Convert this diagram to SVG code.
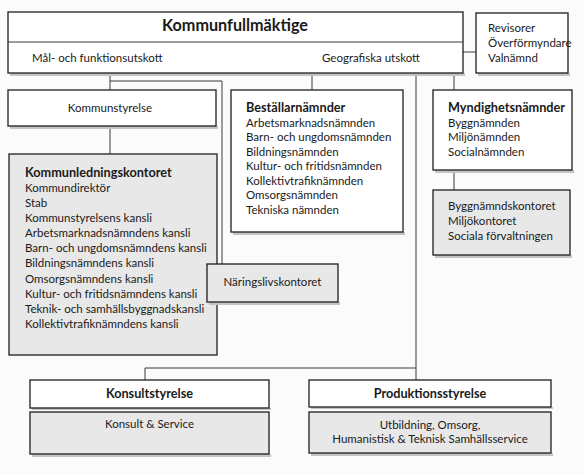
<svg xmlns="http://www.w3.org/2000/svg" width="584" height="474" viewBox="0 0 584 474">
<style>
.box{fill:#ffffff;stroke:#1e1e1e;stroke-width:1.3}
.gray{fill:#e8e8e8;stroke:#1e1e1e;stroke-width:1.3}
.sh{fill:#c4c4c4}
.ln{fill:none;stroke:#3a3a3a;stroke-width:1}
text{font-family:Lato,"Liberation Sans",sans-serif;font-size:11.5px;fill:#1a1a1a}
.b{font-weight:bold;font-size:12.7px}
.c{text-anchor:middle}
.t{font-size:16.2px;font-weight:bold}
</style>
<rect width="584" height="474" fill="#fbfbfb"/>
<g id="connectors">
<path class="ln" d="M110,73 V90"/>
<path class="ln" d="M110,81 H222 V264"/>
<path class="ln" d="M110,126 V154"/>
<path class="ln" d="M312,73 V90"/>
<path class="ln" d="M454,73 V90"/>
<path class="ln" d="M454,170 V190"/>
<path class="ln" d="M416,73 V380"/>
<path class="ln" d="M416,368 H145 V380"/>
<path class="ln" d="M463,52 H476"/>
</g>
<g id="kommunfullmaktige">
<rect class="sh" x="10" y="73" width="455" height="3"/>
<rect class="box" x="8" y="12" width="455" height="61"/>
<line class="ln" x1="8" y1="42" x2="463" y2="42" stroke="#1e1e1e"/>
<text class="t c" x="235" y="31">Kommunfullmäktige</text>
<text x="32" y="62">Mål- och funktionsutskott</text>
<text class="c" x="371" y="62">Geografiska utskott</text>
</g>
<g id="revisorer">
<rect class="sh" x="478" y="73" width="92" height="3"/>
<rect class="box" x="476" y="13" width="92" height="60"/>
<text x="488" y="32">Revisorer</text>
<text x="488" y="47">Överförmyndare</text>
<text x="488" y="62">Valnämnd</text>
</g>
<g id="kommunstyrelse">
<rect class="sh" x="10" y="126" width="208" height="3"/>
<rect class="box" x="8" y="90" width="208" height="36"/>
<text class="c" x="110" y="112">Kommunstyrelse</text>
</g>
<g id="kommunledningskontoret">
<rect class="gray" x="9" y="154" width="208" height="201"/>
<text class="b" x="25" y="177">Kommunledningskontoret</text>
<text x="25" y="192">Kommundirektör</text>
<text x="25" y="207">Stab</text>
<text x="25" y="222">Kommunstyrelsens kansli</text>
<text x="25" y="237">Arbetsmarknadsnämndens kansli</text>
<text x="25" y="252">Barn- och ungdomsnämndens kansli</text>
<text x="25" y="267">Bildningsnämndens kansli</text>
<text x="25" y="282.5">Omsorgsnämndens kansli</text>
<text x="25" y="297.5">Kultur- och fritidsnämndens kansli</text>
<text x="25" y="312.5">Teknik- och samhällsbyggnadskansli</text>
<text x="25" y="328">Kollektivtrafiknämndens kansli</text>
</g>
<g id="bestallarnamnder">
<rect class="sh" x="233" y="232" width="172" height="3"/>
<rect class="box" x="231" y="90" width="172" height="142"/>
<text class="b" x="246" y="112">Beställarnämnder</text>
<text x="246" y="126.5">Arbetsmarknadsnämnden</text>
<text x="246" y="141">Barn- och ungdomsnämnden</text>
<text x="246" y="155.5">Bildningsnämnden</text>
<text x="246" y="170">Kultur- och fritidsnämnden</text>
<text x="246" y="184.5">Kollektivtrafiknämnden</text>
<text x="246" y="199">Omsorgsnämnden</text>
<text x="246" y="213.5">Tekniska nämnden</text>
</g>
<g id="myndighetsnamnder">
<rect class="sh" x="435" y="170" width="139" height="3"/>
<rect class="box" x="433" y="90" width="139" height="80"/>
<text class="b" x="448" y="112">Myndighetsnämnder</text>
<text x="448" y="126.5">Byggnämnden</text>
<text x="448" y="141">Miljönämnden</text>
<text x="448" y="155.5">Socialnämnden</text>
</g>
<g id="forvaltningar">
<rect class="sh" x="435" y="255" width="137" height="3"/>
<rect class="gray" x="433" y="190" width="137" height="65"/>
<text x="448" y="210">Byggnämndskontoret</text>
<text x="448" y="225">Miljökontoret</text>
<text x="448" y="239.5">Sociala förvaltningen</text>
</g>
<g id="naringslivskontoret">
<rect class="sh" x="209" y="302" width="131" height="3"/>
<rect class="gray" x="207" y="264" width="131" height="38"/>
<text class="c" x="272.5" y="286">Näringslivskontoret</text>
</g>
<g id="konsultstyrelse">
<rect class="sh" x="32" y="408" width="239" height="2"/>
<rect class="box" x="30" y="380" width="239" height="28"/>
<text class="b c" x="149.5" y="398">Konsultstyrelse</text>
</g>
<g id="konsult-service">
<rect class="sh" x="32" y="454" width="239" height="3"/>
<rect class="gray" x="30" y="412" width="239" height="42"/>
<text class="c" x="149.5" y="428">Konsult &amp; Service</text>
</g>
<g id="produktionsstyrelse">
<rect class="sh" x="311" y="407" width="242" height="2"/>
<rect class="box" x="309" y="380" width="242" height="27"/>
<text class="b c" x="430" y="398">Produktionsstyrelse</text>
</g>
<g id="produktion-verksamhet">
<rect class="sh" x="311" y="453" width="242" height="3"/>
<rect class="gray" x="309" y="412" width="242" height="41"/>
<text class="c" x="430" y="429">Utbildning, Omsorg,</text>
<text class="c" x="430" y="443">Humanistisk &amp; Teknisk Samhällsservice</text>
</g>
</svg>
